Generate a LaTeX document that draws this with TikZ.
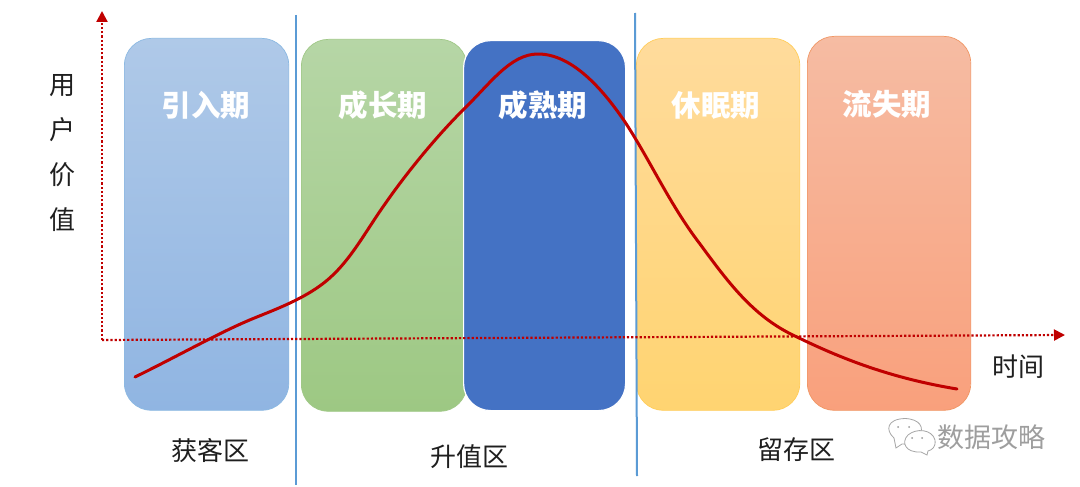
\documentclass[tikz,border=0pt]{standalone}
\usepackage{fontspec}
\setmainfont{Noto Sans CJK SC}
\usetikzlibrary{arrows.meta}
\definecolor{axisred}{HTML}{C00000}
\definecolor{sepblue}{HTML}{5B9BD5}
\tikzset{
  phase/.style={draw,rounded corners=27pt,anchor=north west,line width=0.7pt,inner sep=0pt},
  phasetitle/.style={text=white,font=\fontsize{29.5}{34}\selectfont\bfseries,inner sep=0pt},
  zonetitle/.style={text=black!88,font=\fontsize{26}{30}\selectfont,inner sep=0pt},
  axisline/.style={axisred,line width=2.2pt,dotted,-{Triangle[length=11pt,width=11pt,fill=axisred]}},
  sepline/.style={sepblue,line width=2pt},
  bubble/.style={draw=black!35,fill=white,line width=0.8pt}
}
\begin{document}
\begin{tikzpicture}[x=1pt,y=-1pt]
\useasboundingbox[fill=white] (0,0) rectangle (1080,487);
% phases
\node[phase,minimum width=164.5pt,minimum height=372pt,draw=sepblue!70,top color={rgb,255:red,175;green,201;blue,232},bottom color={rgb,255:red,144;green,181;blue,226}] (intro) at (124,38) {};
\node[phase,minimum width=165.5pt,minimum height=372pt,draw={rgb,255:red,160;green,200;blue,135},top color={rgb,255:red,182;green,214;blue,166},bottom color={rgb,255:red,157;green,200;blue,131}] (grow) at (301,39) {};
\node[phase,minimum width=162pt,minimum height=370pt,draw=white,line width=1.2pt,fill={rgb,255:red,68;green,114;blue,196}] (mature) at (463,40) {};
\node[phase,minimum width=163.5pt,minimum height=372pt,draw={rgb,255:red,255;green,205;blue,90},top color={rgb,255:red,255;green,219;blue,156},bottom color={rgb,255:red,255;green,212;blue,113}] (dorm) at (636,38) {};
\node[phase,minimum width=163.5pt,minimum height=374pt,draw={rgb,255:red,240;green,150;blue,100},top color={rgb,255:red,246;green,188;blue,163},bottom color={rgb,255:red,249;green,160;blue,124}] (lost) at (807,36) {};
% phase titles
\node[phasetitle] (t1) at (206,105) {引入期};
\node[phasetitle] (t2) at (383,105) {成长期};
\node[phasetitle] (t3) at (543,105) {成熟期};
\node[phasetitle] (t4) at (716,105) {休眠期};
\node[phasetitle] (t5) at (887,104) {流失期};
% separators
\coordinate (s1a) at (296,15); \coordinate (s1b) at (296,485);
\coordinate (s2a) at (635,13); \coordinate (s2b) at (637,476);
\draw[sepline] (s1a) -- (s1b);
\draw[sepline] (s2a) -- (s2b);
% value curve
\draw[axisred,line width=3pt,line cap=round,line join=round]
  (135,377) .. controls (170,360) and (215,335) .. (245,322)
  .. controls (265,313) and (300,302) .. (325,282)
  .. controls (350,262) and (365,232) .. (385,204)
  .. controls (405,175) and (435,138) .. (462,111)
  .. controls (490,84) and (510,54) .. (538,54)
  .. controls (570,54) and (600,85) .. (625,122)
  .. controls (650,160) and (670,205) .. (700,244)
  .. controls (730,285) and (755,318) .. (797,337)
  .. controls (840,358) and (890,378) .. (957,389);
% axes
\coordinate (origin) at (102,340);
\coordinate (ytip) at (102,11);
\coordinate (xtip) at (1065,335);
\draw[axisline] (origin) -- (ytip);
\draw[axisline] (origin) -- (xtip);
% labels
\node[zonetitle,align=center,font=\fontsize{26}{44.7}\selectfont] (ylab) at (62,153) {用\\户\\价\\值};
\node[zonetitle] (xlab) at (1018,367) {时间};
\node[zonetitle] (z1) at (210,451) {获客区};
\node[zonetitle] (z2) at (469,457) {升值区};
\node[zonetitle] (z3) at (796,450) {留存区};
% watermark
\draw[bubble] (896,448) -- (894,438) .. controls (885,430) and (887,419) .. (905,418.5) .. controls (920,419) and (925,428) .. (919,436) .. controls (912,443) and (906,445) .. (902,444) -- cycle;
\draw[bubble] (927,455) -- (921,452) .. controls (905,453) and (901,442) .. (908,435) .. controls (916,428) and (932,429) .. (935,440) .. controls (936,447) and (932,450) .. (928,451) -- cycle;
\fill[black!40] (898,427) circle (1pt) (909,427) circle (1pt) (912,438) circle (1pt) (922,438) circle (1pt);
\node[inner sep=0pt,text=black!38,font=\fontsize{27}{30}\selectfont] (wm) at (991.5,437) {数据攻略};
\end{tikzpicture}
\end{document}
